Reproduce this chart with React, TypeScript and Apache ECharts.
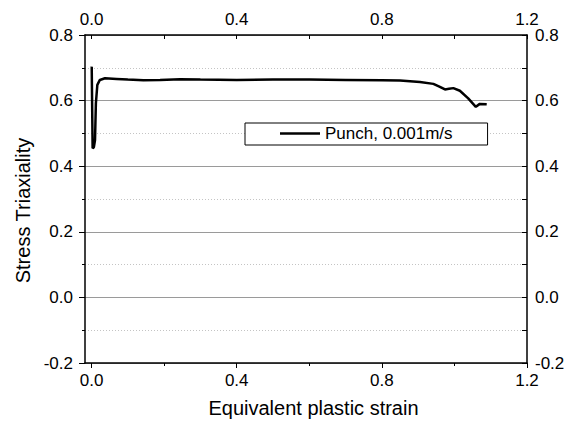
import React, { useEffect, useRef } from "react";
import * as echarts from "echarts";

// Equivalent plastic strain (x) and stress triaxiality (y)
const strain = [
  0.0, 0.0005, 0.003, 0.0065, 0.0096, 0.012, 0.016, 0.023, 0.037, 0.069, 0.1,
  0.143, 0.189, 0.244, 0.3, 0.4, 0.5, 0.6, 0.7, 0.8, 0.85, 0.905, 0.942, 0.96,
  0.974, 0.985, 0.997, 1.015, 1.038, 1.059, 1.07, 1.089,
];
const triaxiality = [
  0.7, 0.703, 0.455, 0.458, 0.48, 0.592, 0.648, 0.663, 0.668, 0.666, 0.664,
  0.662, 0.663, 0.665, 0.664, 0.663, 0.664, 0.664, 0.663, 0.662, 0.661, 0.657,
  0.651, 0.642, 0.634, 0.636, 0.638, 0.63, 0.607, 0.581, 0.59, 0.589,
];
const seriesName = "Punch, 0.001m/s";
const xTickLabels = [0, 0.4, 0.8, 1.2];
const xMinorTicks = [0.2, 0.6, 1.0];
const xTopTicks = [0, 0.2, 0.4, 0.6, 0.8, 1.0, 1.2];
const yTickLabels = [-0.2, 0, 0.2, 0.4, 0.6, 0.8];

const FONT = "'Liberation Sans', Arial, Helvetica, sans-serif";

export default function App() {
  const ref = useRef<HTMLDivElement>(null);

  useEffect(() => {
    if (!ref.current) return;
    const chart = echarts.init(ref.current, null, { renderer: "svg" });
    const fmt = (v: number) => (Math.abs(v) < 1e-9 ? 0 : v).toFixed(1);
    const axisLine = { show: true, onZero: false, lineStyle: { color: "#000", width: 1.5 } };
    const labelStyle = { color: "#000", fontSize: 17, fontFamily: FONT };
    const data = strain.map((x, i) => [x, triaxiality[i]]);

    chart.setOption({
      animation: false,
      backgroundColor: "#fff",
      textStyle: { fontFamily: FONT },
      grid: { left: 85, right: 46, top: 35, bottom: 60, containLabel: false, outerBoundsMode: "none" },
      legend: {
        data: [seriesName],
        left: 245,
        top: 123,
        padding: [2, 35, 3, 35],
        icon: "rect",
        itemWidth: 40,
        itemHeight: 2.5,
        itemStyle: { color: "#000" },
        borderColor: "#000",
        borderWidth: 1,
        borderRadius: 0,
        backgroundColor: "#fff",
        textStyle: { color: "#000", fontSize: 17, fontFamily: FONT },
      },
      xAxis: [
        {
          type: "value",
          position: "bottom",
          min: -0.018,
          max: 1.2,
          axisLine,
          axisTick: { show: true, inside: false, length: 5, customValues: xTickLabels, lineStyle: { color: "#000", width: 1 } },
          axisLabel: { customValues: xTickLabels, formatter: fmt, margin: 9, ...labelStyle },
          splitLine: { show: false },
          name: "Equivalent plastic strain",
          nameLocation: "middle",
          nameGap: 35,
          nameTextStyle: { color: "#000", fontSize: 20, fontFamily: FONT, padding: [0, 0, 0, 15] },
        },
        {
          type: "value",
          position: "bottom",
          offset: 0,
          min: -0.018,
          max: 1.2,
          axisLine: { show: false, onZero: false },
          axisTick: { show: true, inside: false, length: 3, customValues: xMinorTicks, lineStyle: { color: "#000", width: 1 } },
          axisLabel: { show: false },
          splitLine: { show: false },
        },
        {
          type: "value",
          position: "top",
          min: -0.018,
          max: 1.2,
          axisLine,
          axisTick: { show: true, inside: true, length: 4, customValues: xTopTicks, lineStyle: { color: "#000", width: 1 } },
          axisLabel: { customValues: xTickLabels, formatter: fmt, margin: 7, ...labelStyle },
          splitLine: { show: false },
        },
      ],
      yAxis: [
        {
          type: "value",
          position: "left",
          min: -0.2,
          max: 0.8,
          interval: 0.2,
          axisLine,
          axisTick: { show: true, inside: false, length: 6, lineStyle: { color: "#000", width: 1 } },
          minorTick: { show: true, splitNumber: 2, length: 3, lineStyle: { color: "#000", width: 1 } },
          axisLabel: { customValues: yTickLabels, formatter: fmt, margin: 12, ...labelStyle },
          splitLine: { show: true, lineStyle: { color: "#9a9a9a", width: 1 } },
          minorSplitLine: { show: true, lineStyle: { color: "#c4c4c4", width: 1, type: [1, 2] } },
          name: "Stress Triaxiality",
          nameLocation: "middle",
          nameGap: 48,
          nameTextStyle: { color: "#000", fontSize: 20, fontFamily: FONT, padding: [0, 23, 0, 0] },
        },
        {
          type: "value",
          position: "right",
          min: -0.2,
          max: 0.8,
          interval: 0.2,
          axisLine,
          axisTick: { show: true, inside: true, length: 5, lineStyle: { color: "#000", width: 1 } },
          minorTick: { show: true, splitNumber: 2, length: 5, lineStyle: { color: "#000", width: 1 } },
          axisLabel: { customValues: yTickLabels, formatter: fmt, margin: 8, ...labelStyle },
          splitLine: { show: false },
          minorSplitLine: { show: false },
        },
      ],
      series: [
        {
          name: seriesName,
          type: "line",
          xAxisIndex: 0,
          yAxisIndex: 0,
          data,
          symbol: "none",
          showSymbol: false,
          lineStyle: { color: "#000", width: 2.5 },
          itemStyle: { color: "#000" },
          z: 5,
        },
      ],
    });
    return () => chart.dispose();
  }, []);

  return (
    <div
      ref={ref}
      style={{ position: "fixed", left: 0, top: 0, width: 573, height: 423, background: "#fff" }}
    />
  );
}
